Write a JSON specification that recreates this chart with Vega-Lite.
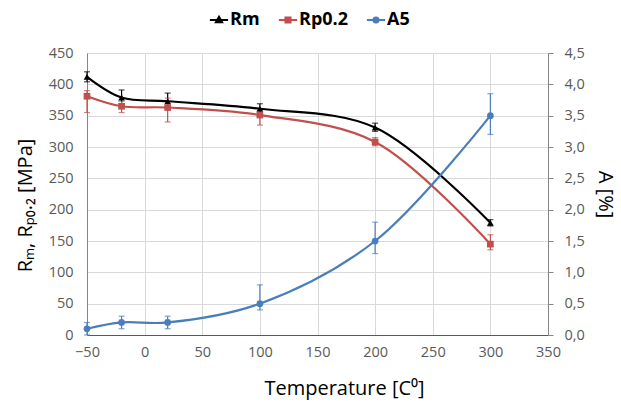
{
  "$schema": "https://vega.github.io/schema/vega-lite/v6.json",
  "width": 461,
  "height": 282,
  "autosize": "none",
  "padding": {"left": 87, "top": 53, "right": 73, "bottom": 72},
  "background": "white",
  "config": {
    "font": "Open Sans",
    "view": {"stroke": null},
    "axis": {"labelFont": "Open Sans", "titleFont": "Open Sans", "labelColor": "#595959", "titleColor": "#000000", "labelFontSize": 14.5, "titleFontSize": 20, "titleFontWeight": "normal", "gridColor": "#d9d9d9", "domainColor": "#868686", "tickColor": "#868686", "labelFlush": false}
  },
  "data": {"values": [
    {"T": -50, "series": "Rm", "v": 412, "lo": 404, "hi": 420},
    {"T": -20, "series": "Rm", "v": 379, "lo": 369, "hi": 391},
    {"T": 20, "series": "Rm", "v": 373, "lo": 363, "hi": 386},
    {"T": 100, "series": "Rm", "v": 361, "lo": 351, "hi": 369},
    {"T": 200, "series": "Rm", "v": 331, "lo": 325, "hi": 338},
    {"T": 300, "series": "Rm", "v": 179, "lo": 174, "hi": 184},
    {"T": -50, "series": "Rp0.2", "v": 381, "lo": 355, "hi": 390},
    {"T": -20, "series": "Rp0.2", "v": 365, "lo": 355, "hi": 373},
    {"T": 20, "series": "Rp0.2", "v": 363, "lo": 340, "hi": 378},
    {"T": 100, "series": "Rp0.2", "v": 351, "lo": 335, "hi": 358},
    {"T": 200, "series": "Rp0.2", "v": 308, "lo": 302, "hi": 315},
    {"T": 300, "series": "Rp0.2", "v": 145, "lo": 136, "hi": 160},
    {"T": -50, "series": "A5", "v": 0.1, "lo": 0.0, "hi": 0.2},
    {"T": -20, "series": "A5", "v": 0.2, "lo": 0.1, "hi": 0.3},
    {"T": 20, "series": "A5", "v": 0.2, "lo": 0.1, "hi": 0.3},
    {"T": 100, "series": "A5", "v": 0.5, "lo": 0.4, "hi": 0.8},
    {"T": 200, "series": "A5", "v": 1.5, "lo": 1.3, "hi": 1.8},
    {"T": 300, "series": "A5", "v": 3.5, "lo": 3.2, "hi": 3.85}
  ]},
  "encoding": {
    "x": {"field": "T", "type": "quantitative", "scale": {"domain": [-50, 350], "nice": false, "zero": false, "padding": 0}, "axis": {"values": [-50, 0, 50, 100, 150, 200, 250, 300, 350], "title": "Temperature [C⁰]", "titleX": 257, "titleAlign": "center", "titlePadding": 20, "domainColor": "#595959", "tickSize": 0, "labelPadding": 10}},
    "color": {"field": "series", "type": "nominal", "scale": {"domain": ["Rm", "Rp0.2", "A5"], "range": ["#000000", "#c0504d", "#4a7ebb"]},
      "legend": {"orient": "none", "legendX": 123, "legendY": -42, "direction": "horizontal", "title": null, "labelFontSize": 18, "labelFontWeight": "bold", "labelColor": "#000000", "labelFont": "Open Sans", "symbolSize": 130, "columnPadding": 14, "labelOffset": 2, "symbolOpacity": 1, "symbolStrokeWidth": 2,
        "encode": {"symbols": {"update": {"fill": {"scale": "color", "field": "value"}, "stroke": {"scale": "color", "field": "value"}, "strokeWidth": {"value": 2}, "opacity": {"value": 1}, "fillOpacity": {"value": 1}, "strokeOpacity": {"value": 1}}}}}}
  },
  "layer": [
    {
      "transform": [{"filter": "datum.series != 'A5'"}],
      "encoding": {
        "y": {"field": "v", "type": "quantitative", "scale": {"domain": [0, 450], "nice": false}, "axis": {"values": [0, 50, 100, 150, 200, 250, 300, 350, 400, 450], "title": "Rₘ, Rₚ₀.₂ [MPa]", "titleY": 152, "titleAlign": "center", "titlePadding": 13, "tickSize": 0, "labelPadding": 14}}
      },
      "layer": [
        {"mark": {"type": "line", "interpolate": "catmull-rom", "strokeWidth": 2.2}},
        {"mark": {"type": "errorbar", "ticks": {"size": 6}, "thickness": 1.2}, "encoding": {"y": {"field": "lo", "type": "quantitative"}, "y2": {"field": "hi"}}},
        {"transform": [{"filter": "datum.series == 'Rm'"}], "mark": {"type": "point", "shape": "triangle-up", "filled": true, "opacity": 1, "size": 45}},
        {"transform": [{"filter": "datum.series == 'Rp0.2'"}], "mark": {"type": "point", "shape": "square", "filled": true, "opacity": 1, "size": 45}}
      ]
    },
    {
      "transform": [{"filter": "datum.series == 'A5'"}],
      "encoding": {
        "y": {"field": "v", "type": "quantitative", "scale": {"domain": [0, 4.5], "nice": false}, "axis": {"orient": "right", "values": [0, 0.5, 1, 1.5, 2, 2.5, 3, 3.5, 4, 4.5], "labelExpr": "replace(datum.label, '.', ',')", "title": "A [%]", "titlePadding": 10, "grid": false, "tickSize": 5, "labelPadding": 11}}
      },
      "layer": [
        {"mark": {"type": "line", "interpolate": "catmull-rom", "strokeWidth": 2.2}},
        {"mark": {"type": "errorbar", "ticks": {"size": 6}, "thickness": 1.2}, "encoding": {"y": {"field": "lo", "type": "quantitative"}, "y2": {"field": "hi"}}},
        {"mark": {"type": "point", "shape": "circle", "filled": true, "opacity": 1, "size": 45}}
      ]
    },
    {
      "mark": {"type": "point", "opacity": 0, "filled": true},
      "encoding": {
        "shape": {"field": "series", "type": "nominal",
          "scale": {"domain": ["Rm", "Rp0.2", "A5"], "range": ["M-1.6,0H1.6M0,-0.55L0.55,0.4H-0.55Z", "M-1.6,0H1.6M-0.45,-0.45H0.45V0.45H-0.45Z", "M-1.6,0H1.6M0.45,0A0.45,0.45 0 1,1 -0.45,0A0.45,0.45 0 1,1 0.45,0Z"]},
          "legend": {"orient": "none", "legendX": 123, "legendY": -42, "direction": "horizontal", "title": null, "labelFontSize": 18, "labelFontWeight": "bold", "labelColor": "#000000", "labelFont": "Open Sans", "symbolSize": 130, "columnPadding": 14, "labelOffset": 2, "symbolOpacity": 1, "symbolStrokeWidth": 2,
            "encode": {"symbols": {"update": {"fill": {"scale": "color", "field": "value"}, "stroke": {"scale": "color", "field": "value"}, "strokeWidth": {"value": 2}, "opacity": {"value": 1}, "fillOpacity": {"value": 1}, "strokeOpacity": {"value": 1}}}}}
        }
      }
    }
  ],
  "resolve": {"scale": {"y": "independent"}}
}
